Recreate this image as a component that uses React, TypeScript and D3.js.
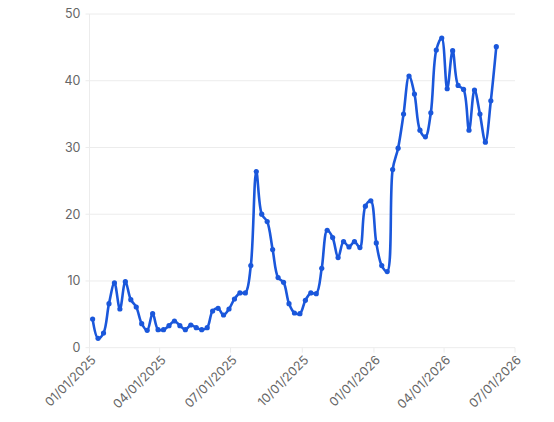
import React from "react";
import * as d3 from "d3";

const startDate = "2025-01-05";
const values: number[] = [
  4.3, 1.4, 2.2, 6.6, 9.7, 5.8, 9.9, 7.2, 6.1, 3.6,
  2.6, 5.1, 2.7, 2.7, 3.3, 4.0, 3.3, 2.7, 3.4, 3.0,
  2.7, 3.0, 5.5, 5.9, 4.9, 5.8, 7.3, 8.2, 8.2, 12.3,
  26.4, 20.0, 18.9, 14.7, 10.5, 9.8, 6.6, 5.2, 5.1, 7.1,
  8.2, 8.1, 11.9, 17.6, 16.5, 13.5, 15.9, 15.1, 15.9, 15.0,
  21.2, 22.0, 15.7, 12.3, 11.4, 26.7, 29.9, 35.0, 40.7, 38.0,
  32.6, 31.6, 35.2, 44.6, 46.4, 38.8, 44.5, 39.3, 38.7, 32.6,
  38.6, 35.0, 30.8, 37.0, 45.1,
];
const xTickDates = ["2025-01-01", "2025-04-01", "2025-07-01", "2025-10-01", "2026-01-01", "2026-04-01", "2026-07-01"];
const yTicks = [0, 10, 20, 30, 40, 50];

const W = 554;
const H = 422;
const M = { left: 89.5, right: 515, top: 14, bottom: 347.7 };
const FONT = "Inter, 'Noto Sans', sans-serif";

export default function App() {
  const parse = d3.utcParse("%Y-%m-%d");
  const start = parse(startDate) as Date;
  const data = values.map((v, i) => ({ date: d3.utcDay.offset(start, i * 7), value: v }));
  const ticks = xTickDates.map((s) => parse(s) as Date);

  const x = d3.scaleUtc().domain([ticks[0], ticks[ticks.length - 1]]).range([M.left, M.right]);
  const y = d3.scaleLinear().domain([0, 50]).range([M.bottom, M.top]);
  const fmt = d3.utcFormat("%m/%d/%Y");

  const line = d3
    .line<{ date: Date; value: number }>()
    .x((d) => x(d.date))
    .y((d) => y(d.value))
    .curve(d3.curveCatmullRom.alpha(0.5));

  const blue = "#1a57db";
  const grid = "#ececec";
  const textColor = "#666";

  return (
    <svg
      width={W}
      height={H}
      style={{ position: "absolute", left: 0, top: 0, background: "#fff" }}
      fontFamily={FONT}
    >
      {yTicks.map((t) => (
        <g key={t}>
          <line x1={M.left - 4} x2={M.right} y1={y(t)} y2={y(t)} stroke={grid} strokeWidth={1} />
          <text x={M.left - 9} y={y(t)} dy="0.35em" textAnchor="end" fontSize={12.5} fill={textColor}>
            {t}
          </text>
        </g>
      ))}
      <line x1={M.left} x2={M.left} y1={M.top} y2={M.bottom + 5} stroke={grid} strokeWidth={1} />
      {ticks.map((t, i) => (
        <g key={i} transform={`translate(${x(t)},${M.bottom})`}>
          <line y1={0} y2={5} stroke={grid} strokeWidth={1} />
          <text
            transform="translate(4,10) rotate(-45)"
            textAnchor="end"
            dy="0.35em"
            fontSize={12.5}
            fill={textColor}
          >
            {fmt(t)}
          </text>
        </g>
      ))}
      <path d={line(data) || ""} fill="none" stroke={blue} strokeWidth={2.6} strokeLinejoin="round" />
      {data.map((d, i) => (
        <circle key={i} cx={x(d.date)} cy={y(d.value)} r={2.6} fill={blue} />
      ))}
    </svg>
  );
}
